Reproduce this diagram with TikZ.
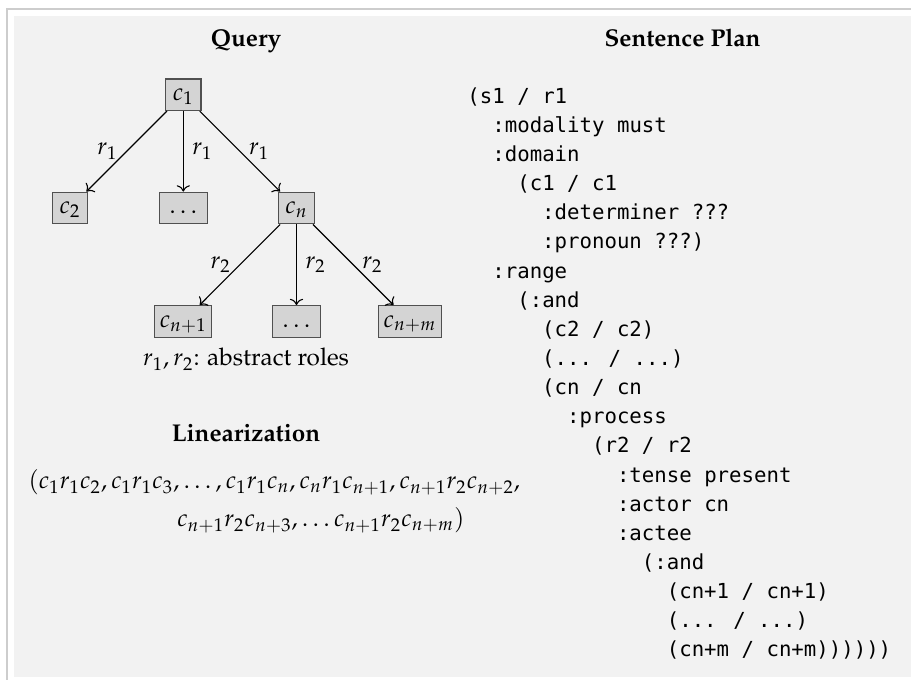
\documentclass[tikz,border=0pt]{standalone}
\usepackage{fontspec}
\newfontfamily\planfont{DejaVu Sans Mono}[Scale=0.852]
\IfFileExists{mathpazo.sty}{\usepackage[T1]{fontenc}\usepackage{mathpazo}}{}
\usetikzlibrary{arrows.meta}

\definecolor{panelbg}{RGB}{242,242,242}
\definecolor{framegray}{RGB}{205,205,205}
\definecolor{boxfill}{RGB}{212,212,212}
\definecolor{boxline}{RGB}{80,80,80}

\tikzset{
  concept/.style={draw=boxline, fill=boxfill, line width=0.5pt,
    text height=6.6pt, text depth=1.9pt, inner xsep=2pt, inner ysep=2.25pt},
  rel/.style={->, line width=0.45pt},
  rlabel/.style={inner sep=3.5pt},
  heading/.style={font=\bfseries, anchor=base, inner sep=0pt},
  planline/.style={font=\planfont, anchor=base west, inner sep=0pt},
  plain/.style={anchor=base, inner sep=0pt}
}

% one line of the sentence plan: name, indent (characters), row, text
\newcommand\plan[4]{%
  \node[planline] (#1) at (467+#2*12.46, 103.2+#3*29.14) {#4};}

\begin{document}
\begin{tikzpicture}[x=0.4115pt, y=-0.4115pt]
\useasboundingbox (0,0) rectangle (911,680);

% panel
\fill[panelbg] (14,16) rectangle (911,677);
\draw[framegray, line width=0.6pt] (911,9) -- (7,9) -- (7,680);

% ---------- query tree ----------
\node[heading] (qhead) at (246,47) {Query};

\node[concept, minimum width=14.5pt] (c1) at (183.3,94.7) {$c_1$};
\node[concept, minimum width=14.5pt] (c2) at (70,208) {$c_2$};
\node[concept, minimum width=19.8pt] (d1) at (183.3,208) {$\ldots$};
\node[concept, minimum width=14.5pt] (cn) at (296.5,208) {$c_n$};
\node[concept, minimum width=22.6pt] (cn1) at (183.3,321.5) {$c_{n+1}$};
\node[concept, minimum width=19.8pt] (d2) at (296.5,321.5) {$\ldots$};
\node[concept, minimum width=24.3pt] (cnm) at (410,321.5) {$c_{n+m}$};

\draw[rel] (c1) -- node[rlabel, left] {$r_1$} (c2);
\draw[rel] (c1) -- node[rlabel, right] {$r_1$} (d1);
\draw[rel] (c1) -- node[rlabel, right] {$r_1$} (cn);
\draw[rel] (cn) -- node[rlabel, left] {$r_2$} (cn1);
\draw[rel] (cn) -- node[rlabel, right] {$r_2$} (d2);
\draw[rel] (cn) -- node[rlabel, right] {$r_2$} (cnm);

\node[plain] (roles) at (246,366) {$r_1, r_2$: abstract roles};

% ---------- linearization ----------
\node[heading] (lhead) at (246,442) {Linearization};
\node[plain, anchor=base west] (lin1) at (28,489)
  {$(c_1r_1c_2, c_1r_1c_3, \ldots, c_1r_1c_n, c_nr_1c_{n+1}, c_{n+1}r_2c_{n+2},$};
\node[plain, anchor=base east] (lin2) at (465,527)
  {$c_{n+1}r_2c_{n+3}, \ldots c_{n+1}r_2c_{n+m})$};

% ---------- sentence plan ----------
\node[heading] (shead) at (682.5,47) {Sentence Plan};

\plan{p0}{0}{0}{(s1 / r1}
\plan{p1}{2}{1}{:modality must}
\plan{p2}{2}{2}{:domain}
\plan{p3}{4}{3}{(c1 / c1}
\plan{p4}{6}{4}{:determiner ???}
\plan{p5}{6}{5}{:pronoun ???)}
\plan{p6}{2}{6}{:range}
\plan{p7}{4}{7}{(:and}
\plan{p8}{6}{8}{(c2 / c2)}
\plan{p9}{6}{9}{(... / ...)}
\plan{p10}{6}{10}{(cn / cn}
\plan{p11}{8}{11}{:process}
\plan{p12}{10}{12}{(r2 / r2}
\plan{p13}{12}{13}{:tense present}
\plan{p14}{12}{14}{:actor cn}
\plan{p15}{12}{15}{:actee}
\plan{p16}{14}{16}{(:and}
\plan{p17}{16}{17}{(cn+1 / cn+1)}
\plan{p18}{16}{18}{(... / ...)}
\plan{p19}{16}{19}{(cn+m / cn+m))))))}

\end{tikzpicture}
\end{document}
